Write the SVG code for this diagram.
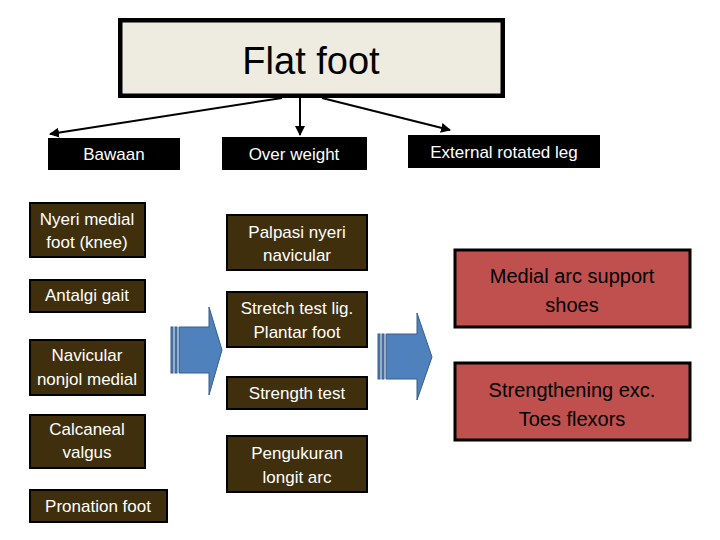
<svg xmlns="http://www.w3.org/2000/svg" width="720" height="540" viewBox="0 0 720 540">
<defs>
<marker id="ah" viewBox="0 0 10 10" refX="9" refY="5" markerWidth="5" markerHeight="5" orient="auto"><path d="M0,0L10,5L0,10z" fill="#000"/></marker>
<style>
text{font-family:"Liberation Sans",Calibri,sans-serif;fill:#fff;text-anchor:middle;font-size:17px}
.blk{fill:#000}
.brn{fill:#3f2f0d;stroke:#000;stroke-width:2}
.red{fill:#c0504d;stroke:#000;stroke-width:3}
.red+text,.red~text{fill:#000}
.ba{fill:#4f81bd;stroke:#385d8a;stroke-width:1}
</style>
</defs>
<rect width="720" height="540" fill="#fff"/>
<g id="title"><rect x="118" y="18" width="387" height="80" fill="#000"/><rect x="122" y="22" width="379" height="72" fill="#eeece1" stroke="#000" stroke-width="1"/><text x="311" y="74" style="fill:#000;font-size:38px">Flat foot</text></g>
<g id="connectors" stroke="#000" stroke-width="2" fill="none">
<line x1="282" y1="98" x2="50" y2="134" marker-end="url(#ah)"/>
<line x1="300" y1="98" x2="300" y2="135" marker-end="url(#ah)"/>
<line x1="322" y1="98" x2="450" y2="130" marker-end="url(#ah)"/>
</g>
<g id="arrow1"><rect x="171" y="327" width="2" height="46" class="ba"/><rect x="175" y="327" width="2" height="46" class="ba"/><path class="ba" d="M179,327H209V307L222,350L209,395V373H179Z"/></g>
<g id="arrow2"><rect x="378" y="334" width="2" height="45" class="ba"/><rect x="382" y="334" width="2" height="45" class="ba"/><path class="ba" d="M386,334H417V313L432,357L417,400V379H386Z"/></g>
<g id="bawaan"><rect x="48" y="138" width="132" height="32" class="blk"/><text x="114" y="160">Bawaan</text></g>
<g id="overweight"><rect x="222" y="137" width="145" height="33" class="blk"/><text x="294" y="160">Over weight</text></g>
<g id="external"><rect x="408" y="135" width="192" height="33" class="blk"/><text x="504" y="158">External rotated leg</text></g>
<g id="nyeri"><rect x="30" y="203" width="115" height="54" class="brn"/><text x="87" y="225">Nyeri medial</text><text x="87" y="248">foot (knee)</text></g>
<g id="antalgi"><rect x="30" y="280" width="115" height="32" class="brn"/><text x="87" y="301">Antalgi gait</text></g>
<g id="navicular"><rect x="30" y="340" width="115" height="55" class="brn"/><text x="87" y="361">Navicular</text><text x="87" y="385">nonjol medial</text></g>
<g id="calcaneal"><rect x="30" y="415" width="115" height="53" class="brn"/><text x="87" y="435">Calcaneal</text><text x="87" y="458">valgus</text></g>
<g id="pronation"><rect x="30" y="490" width="137" height="32" class="brn"/><text x="98" y="512">Pronation foot</text></g>
<g id="palpasi"><rect x="227" y="215" width="140" height="55" class="brn"/><text x="297" y="238">Palpasi nyeri</text><text x="297" y="261">navicular</text></g>
<g id="stretch"><rect x="227" y="292" width="140" height="55" class="brn"/><text x="297" y="314">Stretch test lig.</text><text x="297" y="338">Plantar foot</text></g>
<g id="strength"><rect x="227" y="377" width="140" height="32" class="brn"/><text x="297" y="399">Strength test</text></g>
<g id="pengukuran"><rect x="227" y="436" width="140" height="56" class="brn"/><text x="297" y="459">Pengukuran</text><text x="297" y="483">longit arc</text></g>
<g id="medial"><rect x="455" y="250" width="235" height="77" class="red"/><text x="572" y="283" style="fill:#000;font-size:20px">Medial arc support</text><text x="572" y="312" style="fill:#000;font-size:20px">shoes</text></g>
<g id="strengthening"><rect x="455" y="363" width="235" height="77" class="red"/><text x="572" y="397" style="fill:#000;font-size:20px">Strengthening exc.</text><text x="572" y="426" style="fill:#000;font-size:20px">Toes flexors</text></g>
</svg>
